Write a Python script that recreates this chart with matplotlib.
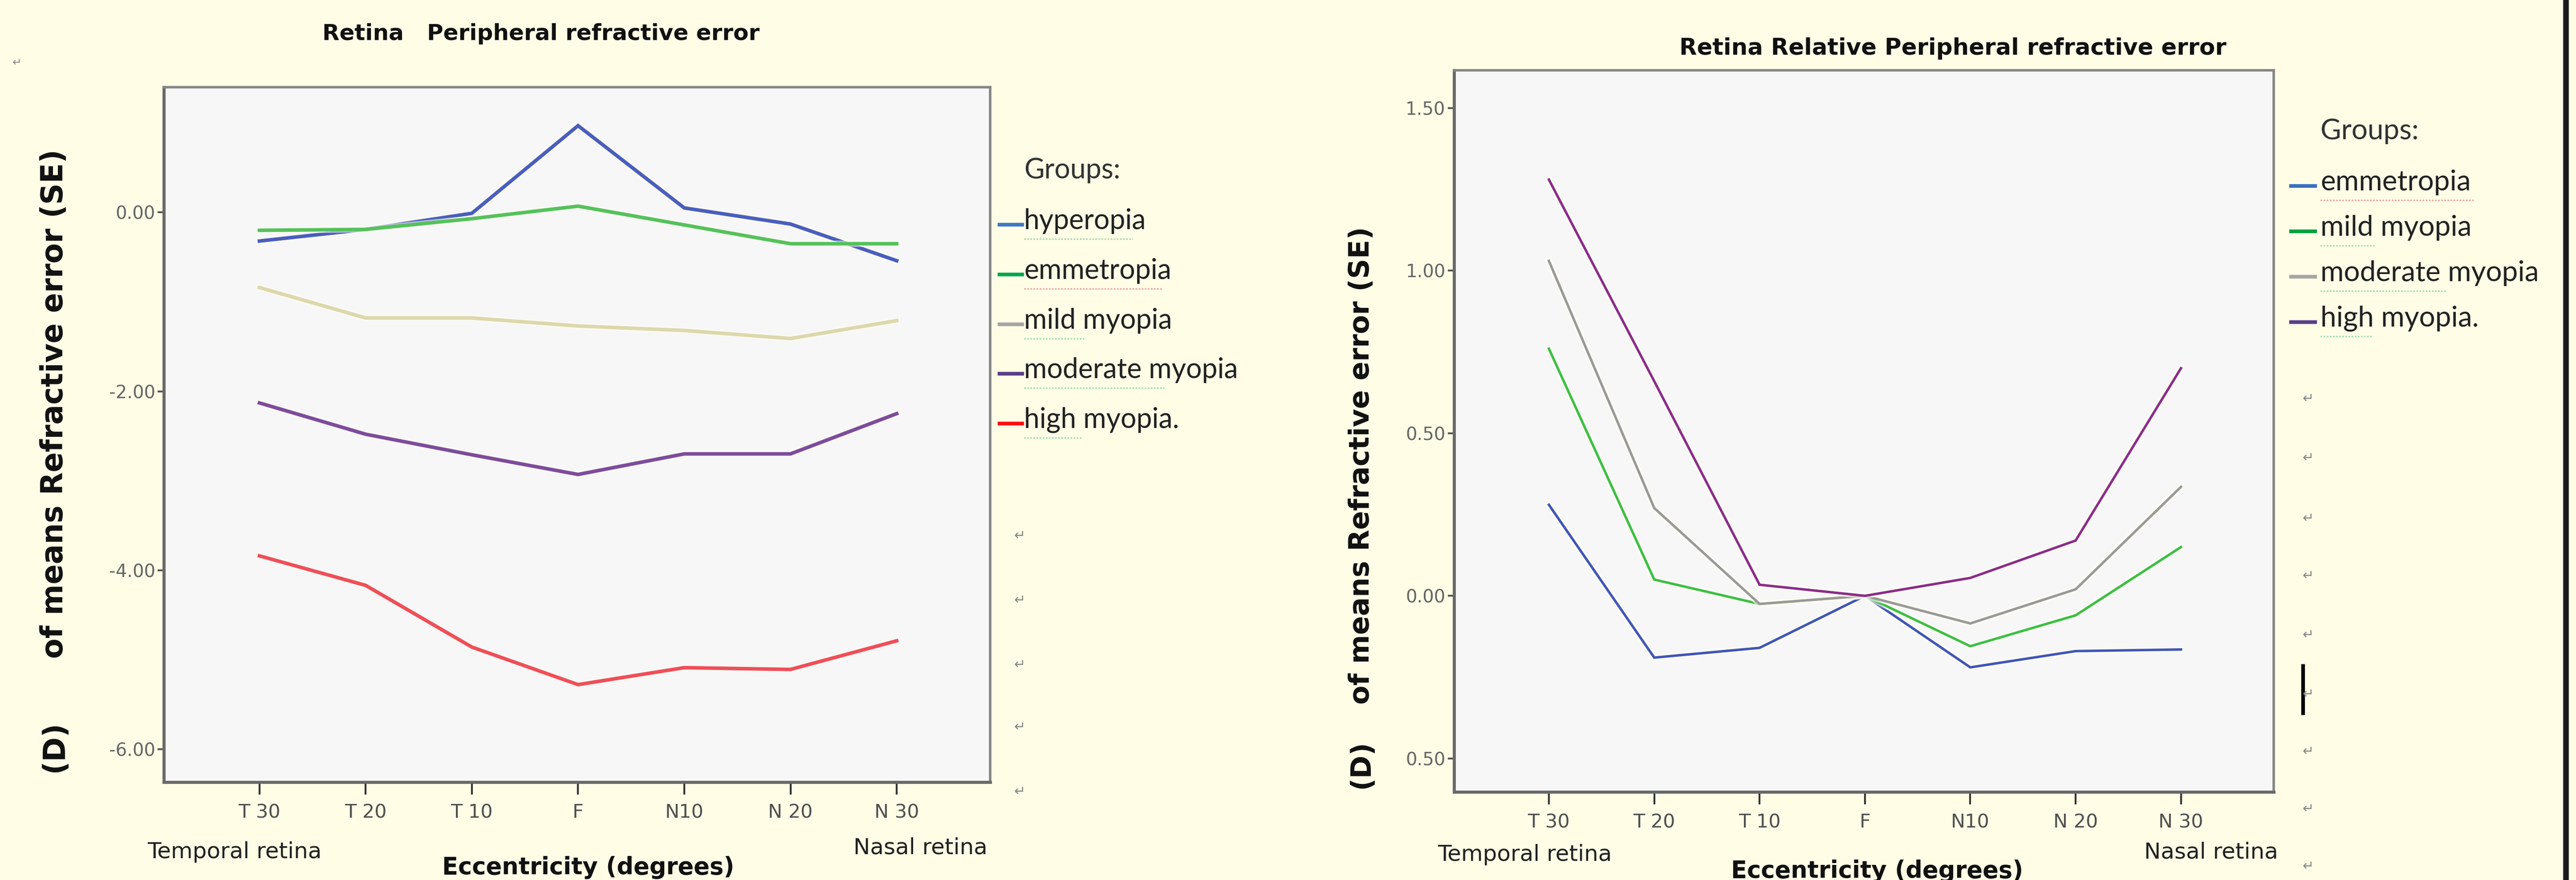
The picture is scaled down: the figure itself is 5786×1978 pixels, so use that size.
import matplotlib
matplotlib.use("Agg")
import matplotlib.pyplot as plt
from matplotlib.lines import Line2D
import matplotlib.patheffects as pe

# figure size in px (dpi 100)
W = 5786; H = 1978

#Categories / tick labels
eccentricity = ["T 30", "T 20", "T 10", "F", "N10", "N 20", "N 30"]
x = list(range(len(eccentricity)))

#Left chart: Peripheral refractive error
left_groups = ["hyperopia", "emmetropia", "mild myopia", "moderate myopia", "high myopia."]
hyperopia = [-0.32, -0.19, -0.01, 0.97, 0.05, -0.13, -0.54]
emmetropia = [-0.20, -0.19, -0.07, 0.07, -0.14, -0.35, -0.35]
mild_myopia = [-0.84, -1.18, -1.18, -1.27, -1.32, -1.41, -1.21]
moderate_myopia = [-2.13, -2.48, -2.71, -2.93, -2.70, -2.70, -2.25]
high_myopia = [-3.84, -4.17, -4.86, -5.28, -5.09, -5.11, -4.79]
left_yticks = [0, -2, -4, -6]
left_yticklabels = ["0.00", "-2.00", "-4.00", "-6.00"]

#Right chart: Relative peripheral refractive error
right_groups = ["emmetropia", "mild myopia", "moderate myopia", "high myopia."]
rel_emmetropia = [0.28, -0.19, -0.16, 0.0, -0.22, -0.17, -0.165]
rel_mild = [0.76, 0.05, -0.025, 0.0, -0.155, -0.06, 0.15]
rel_moderate = [1.03, 0.27, -0.025, 0.0, -0.085, 0.02, 0.335]
rel_high = [1.28, 0.66, 0.034, 0.0, 0.055, 0.17, 0.70]
right_yticks = [1.5, 1.0, 0.5, 0.0, -0.5]
right_yticklabels = ["1.50", "1.00", "0.50", "0.00", "0.50"]

#Styles
BG = "#fffde6"
PLOT_BG = "#f7f7f8"
left_colors = ["#4a5ebd", "#55c25c", "#ddd8ac", "#7d4c9c", "#ef4f5a"]
left_leg_colors = ["#3f78c6", "#00a84c", "#a6a6a6", "#5a3f8a", "#ff1010"]
right_colors = ["#3f55b8", "#3cbf44", "#999999", "#8a2c8a"]
right_leg_colors = ["#3a70c0", "#00a040", "#a6a6a6", "#5a3f8a"]
NARROW = ["Liberation Sans Narrow", "DejaVu Sans"]
halo = [pe.Stroke(linewidth=10, foreground="#fffdf0", alpha=0.6), pe.Normal()]


def fx(px):
    return px / W


def fy(py):
    return 1 - py / H


def style_axes(ax, yticks, ylabels):
    ax.set_facecolor(PLOT_BG)
    for s in ax.spines.values():
        s.set_color("#858585")
        s.set_linewidth(4)
    ax.spines["left"].set_color("#6a6a6a")
    ax.spines["left"].set_linewidth(5)
    ax.spines["bottom"].set_color("#6a6a6a")
    ax.spines["bottom"].set_linewidth(5)
    ax.set_xlim(-0.9, 6.88)
    ax.set_xticks(x)
    ax.set_xticklabels(eccentricity, family=NARROW, fontsize=31, color="#505050")
    ax.set_yticks(yticks)
    ax.set_yticklabels(ylabels, family=NARROW, fontsize=29, color="#666666")
    ax.tick_params(axis="y", length=10, width=3, color="#555555", pad=4)
    ax.tick_params(axis="x", length=20, width=3, color="#333333", pad=14)


fig = plt.figure(figsize=(W / 100, H / 100), dpi=100)
fig.patch.set_facecolor(BG)

#Left chart
ax1 = fig.add_axes([fx(368), fy(1758), fx(2224) - fx(368), fy(196) - fy(1758)])
style_axes(ax1, left_yticks, left_yticklabels)
ax1.set_ylim(-6.37, 1.40)
for vals, c in zip([hyperopia, emmetropia, mild_myopia, moderate_myopia, high_myopia], left_colors):
    ax1.plot(x, vals, color=c, lw=5.8, solid_joinstyle="miter", path_effects=halo)

#Right chart
ax2 = fig.add_axes([fx(3266), fy(1780), fx(5107) - fx(3266), fy(158) - fy(1780)])
style_axes(ax2, right_yticks, right_yticklabels)
ax2.set_ylim(-0.603, 1.616)
for vals, c in zip([rel_emmetropia, rel_mild, rel_moderate, rel_high], right_colors):
    ax2.plot(x, vals, color=c, lw=4, solid_joinstyle="miter", path_effects=halo)

#Titles
fig.text(fx(1215), fy(76), "Retina   Peripheral refractive error", ha="center", va="center",
         fontsize=36, fontweight="bold", family=NARROW, color="#111111")
fig.text(fx(4386), fy(109), "Retina Relative Peripheral refractive error", ha="center", va="center",
         fontsize=37, fontweight="bold", family=NARROW, color="#111111")

#Y labels
fig.text(fx(122), fy(908), "of means Refractive error (SE)", rotation=90, ha="center", va="center",
         fontsize=48, fontweight="bold", color="#111111")
fig.text(fx(122), fy(1678), "(D)", rotation=90, ha="center", va="center",
         fontsize=48, fontweight="bold", color="#111111")
fig.text(fx(3058), fy(1046), "of means Refractive error (SE)", rotation=90, ha="center", va="center",
         fontsize=45, fontweight="bold", color="#111111")
fig.text(fx(3058), fy(1717), "(D)", rotation=90, ha="center", va="center",
         fontsize=45, fontweight="bold", color="#111111")

#X labels
for cx, tx, nx, ty, ey, ny in [(1321, 527, 2067, 1915, 1950, 1905), (4216, 3425, 4966, 1921, 1958, 1915)]:
    fig.text(fx(tx), fy(ty), "Temporal retina", ha="center", va="center", fontsize=36,
             family=NARROW, color="#222222")
    fig.text(fx(nx), fy(ny), "Nasal retina", ha="center", va="center", fontsize=36,
             family=NARROW, color="#222222")
    fig.text(fx(cx), fy(ey), "Eccentricity (degrees)", ha="center", va="center", fontsize=38,
             fontweight="bold", family=NARROW, color="#111111")

#Legends (Word text boxes)
def legend(x_line, x_text, y_groups, y_items, names, colors, squiggle, size):
    fig.text(fx(x_text), fy(y_groups), "Groups:", ha="left", va="center", fontsize=size,
             family="Lato", color="#333333")
    for yy, name, c, sq in zip(y_items, names, colors, squiggle):
        fig.add_artist(Line2D([fx(x_line[0]), fx(x_line[1])], [fy(yy + 8), fy(yy + 8)],
                              color=c, lw=6, transform=fig.transFigure))
        fig.text(fx(x_text), fy(yy), name, ha="left", va="center", fontsize=size,
                 family="Lato", color="#222222")
        fig.add_artist(Line2D([fx(x_text), fx(x_text + sq[0])], [fy(yy + 40), fy(yy + 40)],
                              color=sq[1], lw=2.5, ls=(0, (1, 1)), transform=fig.transFigure))


legend((2245, 2296), 2300, 383, [497, 609, 721, 832, 944], left_groups, left_leg_colors,
       [(245, "#9fdcae"), (310, "#f0a0a0"), (135, "#9fdcae"), (315, "#9fdcae"), (130, "#9fdcae")], 45)
legend((5146, 5200), 5212, 295, [410, 512, 614, 716], right_groups, right_leg_colors,
       [(345, "#f0a0a0"), (125, "#9fdcae"), (285, "#9fdcae"), (118, "#9fdcae")], 46)

#Paragraph marks
fig.text(fx(38), fy(142), "\u21b5", ha="center", va="center", fontsize=18, color="#888888")
for yy in [1205, 1350, 1495, 1635, 1780]:
    fig.text(fx(2290), fy(yy), "\u21b5", ha="center", va="center", fontsize=22, color="#888888")
for yy in [897, 1030, 1166, 1295, 1428, 1561, 1690, 1819, 1948]:
    fig.text(fx(5184), fy(yy), "\u21b5", ha="center", va="center", fontsize=22, color="#888888")

#Text cursor and page edge
fig.add_artist(Line2D([fx(5173), fx(5173)], [fy(1497), fy(1603)], color="black", lw=6,
                      transform=fig.transFigure))
fig.add_artist(Line2D([fx(5763), fx(5763)], [0, 1], color="#1a1a1a", lw=9,
                      transform=fig.transFigure))

fig.savefig("out.png", dpi=100, facecolor=BG)
